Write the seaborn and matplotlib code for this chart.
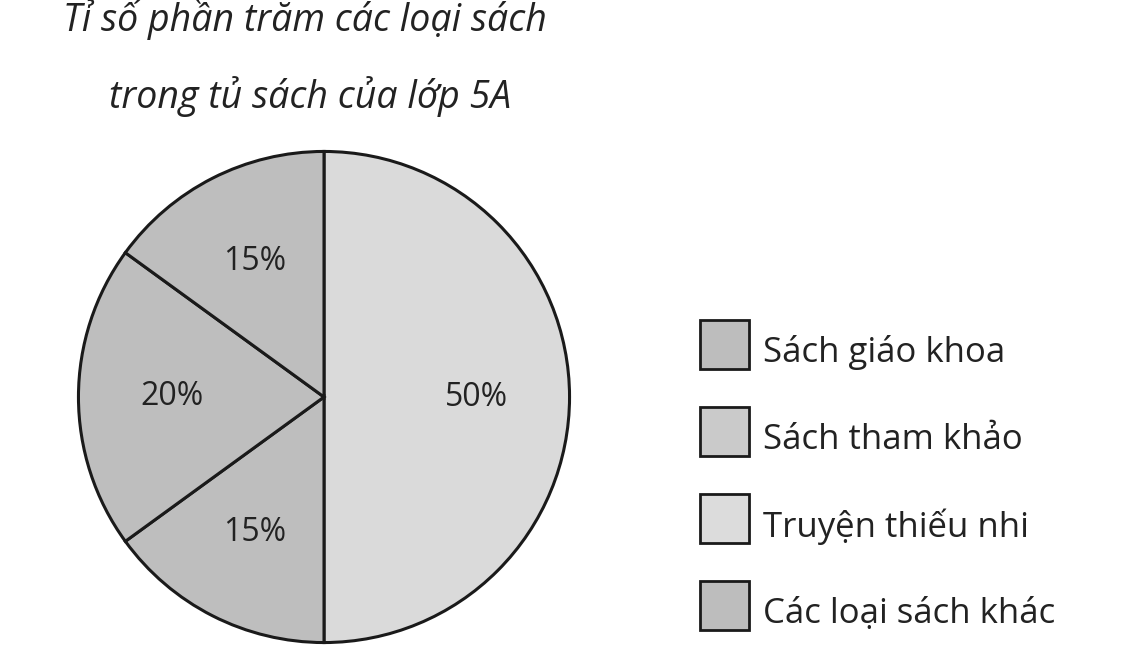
import matplotlib
matplotlib.use("Agg")
import matplotlib.pyplot as plt
import seaborn as sns
from matplotlib.patches import Rectangle

sns.set_theme(style="white")
plt.rcParams['font.family'] = ['Open Sans', 'DejaVu Sans']

categories = ["Truyện thiếu nhi", "Các loại sách khác", "Sách tham khảo", "Sách giáo khoa"]
values = [50, 15, 20, 15]
wedge_colors = ["#dadada", "#bebebe", "#bebebe", "#bebebe"]
legend_labels = ["Sách giáo khoa", "Sách tham khảo", "Truyện thiếu nhi", "Các loại sách khác"]
legend_colors = ["#bdbdbd", "#cacaca", "#dcdcdc", "#bdbdbd"]

W, H = 1123, 647
fig = plt.figure(figsize=(W/100, H/100), dpi=100)
ax = fig.add_axes([(324-248)/W, (647-397-248)/H, 496/W, 496/H])
ax.pie(values, colors=wedge_colors, startangle=90, counterclock=False,
       autopct=lambda p: f"{p:.0f}%", pctdistance=0.62,
       wedgeprops=dict(edgecolor="#1a1a1a", linewidth=2.2),
       textprops=dict(fontsize=23, color="#222222"))
ax.set_aspect("equal")
ax.set_xlim(-1.01, 1.01); ax.set_ylim(-1.01, 1.01)
ax.axis("off")

fig.text(305/W, 1-20/H, "Tỉ số phần trăm các loại sách", ha="center", va="center",
         fontsize=27, style="italic", color="#222222")
fig.text(310/W, 1-97/H, "trong tủ sách của lớp 5A", ha="center", va="center",
         fontsize=27, style="italic", color="#222222")

tops = [320, 407, 494, 581]
for t, lab, c in zip(tops, legend_labels, legend_colors):
    fig.patches.append(Rectangle((700/W, 1-(t+49)/H), 49/W, 49/H, transform=fig.transFigure,
                                 facecolor=c, edgecolor="#1a1a1a", linewidth=2))
    fig.text(763/W, 1-(t+33)/H, lab, ha="left", va="center", fontsize=25, color="#222222")

fig.savefig("out.png", dpi=100)
